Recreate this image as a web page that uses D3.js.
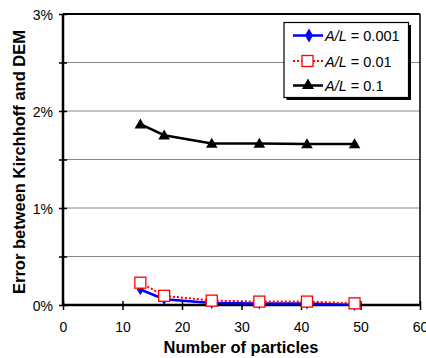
<!DOCTYPE html>
<html><head><meta charset="utf-8">
<script src="https://cdn.jsdelivr.net/npm/d3@7"></script>
<style>body{margin:0;background:#fff}svg{display:block;font-family:"Liberation Sans",Arial,sans-serif}</style>
</head><body><svg id="c" width="426" height="358"></svg>
<script>
const particles = [13, 17, 25, 33, 41, 49];
const al0001 = [0.16, 0.06, 0.02, 0.015, 0.015, 0.0];
const al001 = [0.23, 0.095, 0.045, 0.035, 0.035, 0.017];
const al01 = [1.865, 1.75, 1.665, 1.665, 1.66, 1.66];
const xTicks = [0, 10, 20, 30, 40, 50, 60];
const yTicks = [0, 0.5, 1, 1.5, 2, 2.5, 3];
const seriesNames = ["0.001", "0.01", "0.1"];

const svg = d3.select("#c");
const L = 63, R = 420, T = 14, B = 305;
const x = d3.scaleLinear().domain([0, 60]).range([L, R]);
const y = d3.scaleLinear().domain([0, 3]).range([B, T]);

// gridlines
svg.append("g").selectAll("line").data(yTicks.filter(d => d > 0 && d < 3)).join("line")
  .attr("x1", L).attr("x2", R).attr("y1", d => y(d)).attr("y2", d => y(d))
  .attr("stroke", "#888").attr("stroke-width", 1);

// borders top & right
svg.append("line").attr("x1", L).attr("x2", R).attr("y1", y(3)).attr("y2", y(3)).attr("stroke", "#000").attr("stroke-width", 2);
svg.append("line").attr("x1", R).attr("x2", R).attr("y1", T).attr("y2", B).attr("stroke", "#000").attr("stroke-width", 1.5);

// y axis
const yAx = svg.append("g").attr("transform", `translate(${L},0)`)
  .call(d3.axisLeft(y).tickValues(yTicks).tickSize(4).tickFormat(d => Number.isInteger(d) ? d + "%" : ""));
yAx.select(".domain").attr("stroke-width", 2.5).attr("d", `M0,${T}V${B}`);
yAx.selectAll(".tick line").attr("x1", -4).attr("x2", 4).attr("stroke-width", 1.5);
yAx.selectAll(".tick text").attr("font-size", 14).attr("fill", "#000").attr("x", -10).attr("dy", "0.36em").attr("font-family", "Liberation Sans, Arial, sans-serif");

// x axis
const xAx = svg.append("g").attr("transform", `translate(0,${B})`)
  .call(d3.axisBottom(x).tickValues(xTicks).tickSize(4));
xAx.select(".domain").attr("stroke-width", 2.5).attr("d", `M${L},0H${R}`);
xAx.selectAll(".tick line").attr("y1", -4).attr("y2", 5).attr("stroke-width", 1.5);
xAx.selectAll(".tick text").attr("font-size", 14).attr("fill", "#000").attr("y", 27).attr("dy", 0).attr("font-family", "Liberation Sans, Arial, sans-serif");

// titles
svg.append("text").attr("x", 241).attr("y", 353).attr("text-anchor", "middle")
  .attr("font-size", 16.5).attr("font-weight", "bold").text("Number of particles");
svg.append("text").attr("transform", "translate(24.5,162) rotate(-90)").attr("text-anchor", "middle")
  .attr("font-size", 16.5).attr("font-weight", "bold").text("Error between Kirchhoff and DEM");

const line = d3.line().x((d, i) => x(particles[i])).y(d => y(d));

// series 0.1 black triangles
svg.append("path").datum(al01).attr("d", line).attr("fill", "none").attr("stroke", "#000").attr("stroke-width", 2.5);
const tri = d3.symbol().type(d3.symbolTriangle).size(58);
svg.append("g").selectAll("path").data(al01).join("path")
  .attr("transform", (d, i) => `translate(${x(particles[i])},${y(d) + 1})`).attr("d", tri).attr("fill", "#000");

// series 0.001 blue diamonds
svg.append("path").datum(al0001).attr("d", line).attr("fill", "none").attr("stroke", "#0000ff").attr("stroke-width", 2.5);
const dia = d3.symbol().type(d3.symbolDiamond).size(40);
svg.append("g").selectAll("path").data(al0001).join("path")
  .attr("transform", (d, i) => `translate(${x(particles[i])},${y(d)})`).attr("d", dia).attr("fill", "#0000ff");

// series 0.01 red dotted squares
svg.append("path").datum(al001).attr("d", line).attr("fill", "none").attr("stroke", "#ff0000").attr("stroke-width", 2).attr("stroke-dasharray", "2,2");
svg.append("g").selectAll("rect").data(al001).join("rect")
  .attr("x", (d, i) => x(particles[i]) - 5.5).attr("y", d => y(d) - 5.5)
  .attr("width", 11).attr("height", 11).attr("fill", "#fff").attr("stroke", "#ff0000").attr("stroke-width", 1.3);

// legend
const lg = svg.append("g");
lg.append("rect").attr("x", 286.5).attr("y", 25).attr("width", 124.5).attr("height", 75).attr("fill", "#000");
lg.append("rect").attr("x", 284).attr("y", 22.5).attr("width", 124.5).attr("height", 75).attr("fill", "#fff").attr("stroke", "#000").attr("stroke-width", 1.2);
const rows = [35.5, 61, 85.5];
lg.append("line").attr("x1", 293).attr("x2", 323).attr("y1", rows[0]).attr("y2", rows[0]).attr("stroke", "#0000ff").attr("stroke-width", 2.5);
lg.append("path").attr("d", d3.symbol().type(d3.symbolDiamond).size(55)).attr("transform", `translate(309,${rows[0]})`).attr("fill", "#0000ff");
lg.append("line").attr("x1", 293).attr("x2", 323).attr("y1", rows[1]).attr("y2", rows[1]).attr("stroke", "#ff0000").attr("stroke-width", 2).attr("stroke-dasharray", "2,2");
lg.append("rect").attr("x", 302).attr("y", rows[1] - 5.5).attr("width", 11).attr("height", 11).attr("fill", "#fff").attr("stroke", "#ff0000").attr("stroke-width", 1.3);
lg.append("line").attr("x1", 293).attr("x2", 323).attr("y1", rows[2]).attr("y2", rows[2]).attr("stroke", "#000").attr("stroke-width", 2.5);
lg.append("path").attr("d", d3.symbol().type(d3.symbolTriangle).size(62)).attr("transform", `translate(308,${rows[2]})`).attr("fill", "#000");

rows.forEach((ry, i) => {
  const t = lg.append("text").attr("x", 325).attr("y", ry + 5.5).attr("font-size", 14.5);
  t.append("tspan").attr("font-style", "italic").text("A/L");
  t.append("tspan").text(" = " + seriesNames[i]);
});
</script></body></html>
